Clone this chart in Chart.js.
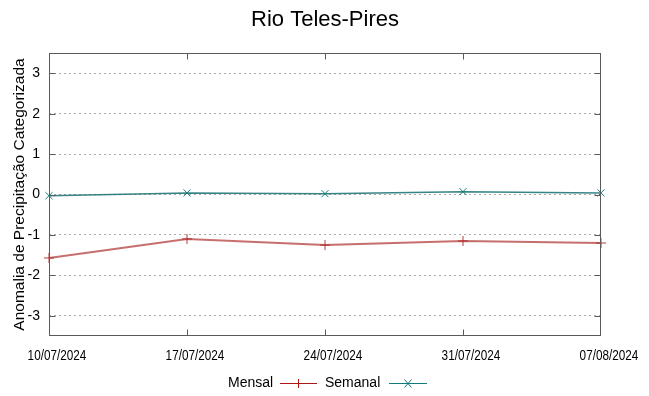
<!DOCTYPE html>
<html>
<head>
<meta charset="utf-8">
<script src="https://cdn.jsdelivr.net/npm/chart.js@4"></script>
<style>
  html, body { margin:0; padding:0; background:#fff; }
  #wrap { width:649px; height:396px; position:relative; }
</style>
</head>
<body>
<div id="wrap"><canvas id="chart" width="649" height="396"></canvas></div>
<script>
// data
const dates = ['10/07/2024', '17/07/2024', '24/07/2024', '31/07/2024', '07/08/2024'];
const mensal = [-1.57, -1.10, -1.25, -1.15, -1.20];
const semanal = [-0.03, 0.04, 0.02, 0.07, 0.04];
const yTicks = [-3, -2, -1, 0, 1, 2, 3];

const chartTitle = 'Rio Teles-Pires';
const yTitle = 'Anomalia de Precipitação Categorizada';

// title, frame, inward ticks, narrow date labels and gnuplot-like legend
const frame = {
    id: 'frame',
    afterDraw(chart) {
        const ctx = chart.ctx;
        const a = chart.chartArea;
        const xs = chart.scales.x, ys = chart.scales.y;
        const L = a.left + 0.5, R = a.right - 0.5, T = a.top + 0.5, B = a.bottom - 0.5;
        ctx.save();
        ctx.strokeStyle = '#5a5a5a';
        ctx.lineWidth = 1;
        ctx.strokeRect(L, T, R - L, B - T);
        ctx.beginPath();
        yTicks.forEach(v => {
            const y = Math.round(ys.getPixelForValue(v)) + 0.5;
            ctx.moveTo(L, y); ctx.lineTo(L + 6, y);
            ctx.moveTo(R, y); ctx.lineTo(R - 6, y);
        });
        dates.forEach((d, i) => {
            const x = Math.min(R, Math.round(xs.getPixelForValue(i)) + 0.5);
            ctx.moveTo(x, B); ctx.lineTo(x, B - 6);
            ctx.moveTo(x, T); ctx.lineTo(x, T + 6);
        });
        ctx.stroke();

        // date labels, horizontally squeezed, set a bit right of the tick
        ctx.fillStyle = '#000';
        ctx.font = '14.5px "Liberation Sans", Arial, sans-serif';
        ctx.textAlign = 'center';
        ctx.textBaseline = 'middle';
        dates.forEach((d, i) => {
            const x = xs.getPixelForValue(i) + 8;
            ctx.save();
            ctx.translate(x, 356);
            ctx.scale(0.81, 1);
            ctx.fillText(d, 0, 0);
            ctx.restore();
        });

        ctx.font = '22px "Liberation Sans", Arial, sans-serif';
        ctx.fillText(chartTitle, 325, 20);

        // legend
        ctx.font = '14px "Liberation Sans", Arial, sans-serif';
        ctx.textAlign = 'left';
        const ly = 383;
        ctx.fillText('Mensal', 228, ly);
        ctx.fillText('Semanal', 325, ly);
        ctx.lineWidth = 1;
        ctx.strokeStyle = '#b01515';
        ctx.beginPath();
        ctx.moveTo(280, ly + 0.5); ctx.lineTo(317, ly + 0.5);
        ctx.moveTo(298.5, ly - 4); ctx.lineTo(298.5, ly + 5);
        ctx.stroke();
        ctx.strokeStyle = '#137a7a';
        ctx.beginPath();
        ctx.moveTo(389, ly + 0.5); ctx.lineTo(427, ly + 0.5);
        ctx.moveTo(404.5, ly - 3.5); ctx.lineTo(411.5, ly + 4.5);
        ctx.moveTo(411.5, ly - 3.5); ctx.lineTo(404.5, ly + 4.5);
        ctx.stroke();
        ctx.restore();
    }
};

new Chart(document.getElementById('chart'), {
    type: 'line',
    data: {
        labels: dates,
        datasets: [{
            label: 'Mensal',
            data: mensal,
            borderColor: 'rgba(175, 50, 50, 0.7)',
            borderWidth: 2,
            pointStyle: 'cross',
            pointRadius: 5,
            pointBorderColor: 'rgba(175, 40, 40, 0.9)',
            pointBorderWidth: 1,
            tension: 0
        }, {
            label: 'Semanal',
            data: semanal,
            borderColor: 'rgba(20, 110, 110, 0.85)',
            borderWidth: 1.5,
            pointStyle: 'crossRot',
            pointRadius: 5,
            pointBorderColor: '#137a7a',
            pointBorderWidth: 1,
            tension: 0
        }]
    },
    plugins: [frame],
    options: {
        responsive: false,
        animation: false,
        layout: { padding: { top: 53, right: 48, left: 0, bottom: 0 } },
        plugins: { legend: { display: false }, title: { display: false }, tooltip: { enabled: false } },
        scales: {
            x: {
                type: 'category',
                offset: false,
                grid: { display: false, drawTicks: false },
                border: { display: false },
                ticks: { display: false },
                afterFit(s) { s.height = 60; }
            },
            y: {
                min: -3.5,
                max: 3.5,
                afterBuildTicks(s) { s.ticks = yTicks.map(v => ({ value: v })); },
                grid: {
                    drawTicks: false,
                    color: '#aaa',
                    lineWidth: 1
                },
                border: { display: false, dash: [2, 3] },
                ticks: {
                    padding: 9,
                    color: '#000',
                    font: { family: '"Liberation Sans", Arial, sans-serif', size: 14 }
                },
                title: {
                    display: true,
                    text: yTitle,
                    color: '#000',
                    padding: { top: 10, bottom: 0 },
                    font: { family: '"Liberation Sans", Arial, sans-serif', size: 15.5 }
                },
                afterFit(s) { s.width = 49; }
            }
        }
    }
});
</script>
</body>
</html>
